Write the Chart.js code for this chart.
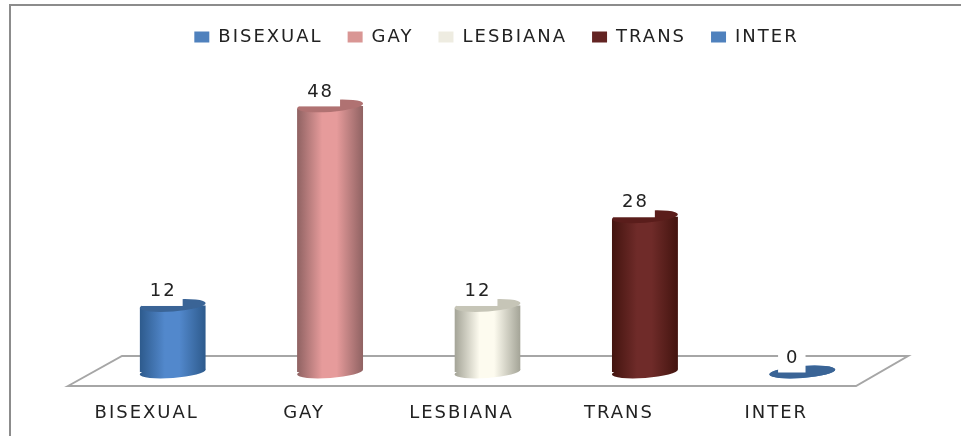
<!DOCTYPE html>
<html><head><meta charset="utf-8">
<style>html,body{margin:0;padding:0;background:#fff}canvas{display:block}</style>
<script src="https://cdn.jsdelivr.net/npm/chart.js@4/dist/chart.umd.min.js"></script>
</head><body><canvas id="c" width="961" height="436" style="width:961px;height:436px"></canvas>
<script>
const categories = ['BISEXUAL','GAY','LESBIANA','TRANS','INTER'];
const values = [12,48,12,28,0];
const legendColors = ['#4f81bd','#d99694','#eeece1','#632423','#4f81bd'];
const edgeColors = ['#2d5a8c','#8f6262','#a3a396','#43140f','#2d5a8c'];
const midColors = ['#5288cc','#e69b9b','#fdfbef','#6f2b29','#5288cc'];
const topColors = ['#3a6496','#b07272','#c6c5b7','#5a1d1b','#3a6496'];
const TEXT = '#222222', GRID = '#a6a6a6', FRAME = '#8c8c8c';
const TRACK = 2;

function gradient(c, x0, x1, i){
  const g = c.createLinearGradient(x0,0,x1,0);
  g.addColorStop(0, edgeColors[i]);
  g.addColorStop(0.38, midColors[i]);
  g.addColorStop(0.6, midColors[i]);
  g.addColorStop(1, edgeColors[i]);
  return g;
}
const TILT = -0.075, RY = 6;
function ell(c, x, y, rx){ c.beginPath(); c.ellipse(x,y,rx,RY,TILT,0,Math.PI*2); }

const cylinder = {
  id:'cylinder',
  beforeLayout(chart){ chart.ctx.letterSpacing = TRACK+'px'; },
  afterLayout(chart){ const l = chart.legend; l.left += 9; l.right += 9; },
  beforeDraw(chart){
    const c = chart.ctx, a = chart.chartArea;
    c.letterSpacing = TRACK+'px';
    c.save();
    c.fillStyle = '#fff'; c.fillRect(0,0,chart.width,chart.height);
    c.strokeStyle = FRAME; c.lineWidth = 2;
    c.beginPath(); c.moveTo(10,chart.height); c.lineTo(10,5); c.lineTo(chart.width,5); c.stroke();
    const y0 = chart.scales.y.getPixelForValue(0);
    c.strokeStyle = GRID; c.lineWidth = 2;
    c.beginPath();
    c.moveTo(a.left-26, y0+14); c.lineTo(a.left+28, y0-16); c.lineTo(a.right+27, y0-16); c.lineTo(a.right-25, y0+14); c.closePath();
    c.stroke();
    c.restore();
  },
  beforeDatasetsDraw(chart){
    const c = chart.ctx, m = chart.getDatasetMeta(0);
    m.data.forEach((b,i)=>{
      const rx = b.width/2;
      c.save(); c.fillStyle = gradient(c,b.x-rx,b.x+rx,i); ell(c,b.x,b.base,rx); c.fill(); c.restore();
    });
    c.save(); c.beginPath();
    m.data.forEach(b=>{
      const rx=b.width/2, d=rx*Math.tan(-TILT);
      c.moveTo(b.x-rx,b.y+d); c.lineTo(b.x+rx,b.y-d); c.lineTo(b.x+rx,b.base-d); c.lineTo(b.x-rx,b.base+d); c.closePath();
    });
    c.clip();
  },
  afterDatasetsDraw(chart){
    const c = chart.ctx, m = chart.getDatasetMeta(0);
    c.restore();
    m.data.forEach((b,i)=>{
      const rx = b.width/2;
      c.save(); c.fillStyle = topColors[i]; ell(c,b.x,b.y,rx); c.fill();
      c.font = '18px "DejaVu Sans"'; c.letterSpacing = TRACK+'px';
      const label = String(values[i]), w = c.measureText(label).width;
      const lx = b.x-10.5, ly = b.y-14;
      c.fillStyle = '#fff'; c.fillRect(lx-w/2-7, ly-14.5, w+14, 29);
      c.fillStyle = TEXT; c.textAlign='center'; c.textBaseline='middle';
      c.fillText(label,lx+1,ly);
      c.restore();
    });
  }
};

new Chart(document.getElementById('c').getContext('2d'),{
  type:'bar',
  data:{labels:categories,datasets:[{data:values,barPercentage:0.42,categoryPercentage:1,borderWidth:0,
    backgroundColor(ctx){
      const ch = ctx.chart, i = ctx.dataIndex, s = ch.scales.x;
      if(!ch.chartArea || i===undefined || !s) return legendColors[i||0];
      const x = s.getPixelForValue(i), rx = s.width/categories.length*0.42/2;
      return gradient(ch.ctx,x-rx,x+rx,i);
    }}]},
  options:{
    responsive:false,animation:false,
    devicePixelRatio:1,
    layout:{padding:{left:94,right:80,top:3,bottom:0}},
    font:{family:'"DejaVu Sans"',size:18},
    plugins:{
      tooltip:{enabled:false},
      legend:{display:true,position:'top',labels:{
        color:TEXT,font:{family:'"DejaVu Sans"',size:18},boxWidth:15,boxHeight:11,padding:25,
        generateLabels(){return categories.map((t,i)=>({text:t,fillStyle:legendColors[i],strokeStyle:legendColors[i],lineWidth:0,index:i,fontColor:TEXT}));}
      }}
    },
    scales:{
      x:{afterFit(s){s.height=64;},grid:{display:false,drawTicks:false},border:{display:false},ticks:{color:TEXT,font:{family:'"DejaVu Sans"',size:18},labelOffset:-26,padding:31,maxRotation:0,autoSkip:false}},
      y:{display:false,min:0,max:57}
    }
  },
  plugins:[cylinder]
});
</script></body></html>
